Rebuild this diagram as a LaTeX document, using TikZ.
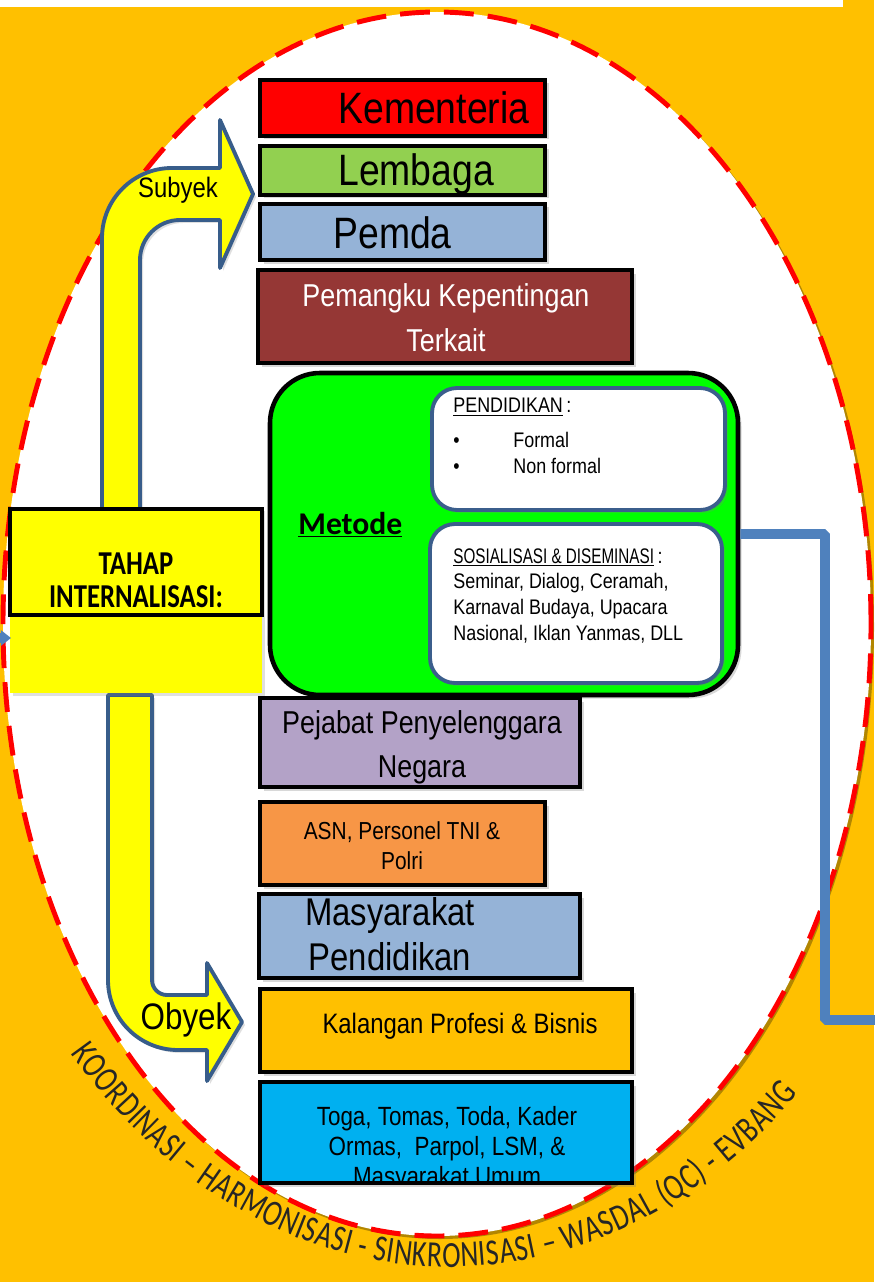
\documentclass[tikz,border=0pt]{standalone}
\usepackage{fontspec}
\setmainfont{Liberation Sans}
\newfontfamily\narrowsans[FakeStretch=0.85]{Liberation Sans}
\newfontfamily\condbold[FakeStretch=0.8]{Carlito}
\newfontfamily\plainbold{Carlito}
\newfontfamily\arcfont[FakeStretch=0.75]{Carlito}
\usetikzlibrary{shadows}
\usetikzlibrary{arrows.meta}
\usetikzlibrary{decorations.text}
\usetikzlibrary{fit}

\definecolor{bggold}{HTML}{FFC000}
\definecolor{kemred}{HTML}{FF0000}
\definecolor{lemgreen}{HTML}{92D050}
\definecolor{pemblue}{HTML}{95B3D7}
\definecolor{pkubrown}{HTML}{953735}
\definecolor{metgreen}{HTML}{00FF00}
\definecolor{innerblue}{HTML}{3B5E8C}
\definecolor{lilac}{HTML}{B3A2C7}
\definecolor{asnorange}{HTML}{F79646}
\definecolor{togacyan}{HTML}{00B0F0}
\definecolor{arrowyellow}{HTML}{FFFF00}
\definecolor{arrowedge}{HTML}{385D8A}
\definecolor{linkblue}{HTML}{4F81BD}
\definecolor{arcgray}{HTML}{262626}

\begin{document}
\begin{tikzpicture}[x=0.2mm, y=0.2mm,
    box/.style={draw=black, line width=2.6pt, inner sep=0pt,
        drop shadow={shadow xshift=0.7mm, shadow yshift=-0.7mm, opacity=0.3}},
    innerbox/.style={draw=innerblue, fill=white, line width=2.2pt, rounded corners=5mm, inner sep=0pt,
        drop shadow={shadow xshift=0.6mm, shadow yshift=-0.6mm, opacity=0.25}},
    boxtxt/.style={font=\narrowsans, inner sep=0pt, align=center},
    bendarrow/.style={fill=arrowyellow, draw=arrowedge, line width=2.2pt, line join=round,
        drop shadow={shadow xshift=0.6mm, shadow yshift=-0.6mm, opacity=0.25}},
    link/.style={draw=linkblue, line width=5.5pt},
    ovalrim/.style={draw=kemred, line width=2.8pt, dash pattern=on 17pt off 8pt}
]
    % latar
    \fill[bggold] (0,0) rectangle (874,-1282);
    \useasboundingbox (0,0) rectangle (874,-1282);
    \fill[white] (0,0) rectangle (843,-7);

    % elips
    \fill[black!60!bggold, opacity=0.5] (440,-627) ellipse [x radius=434, y radius=612];
    \fill[white] (437,-624) ellipse [x radius=434, y radius=612];
    \draw[ovalrim] (437,-624) ellipse [x radius=434, y radius=612];

    % teks melengkung
    \path[decorate, decoration={text along path, text align={fit to path}, text color=arcgray,
        text={|\arcfont\fontsize{21}{21}\selectfont|KOORDINASI – HARMONISASI - SINKRONISASI – WASDAL (QC) - EVBANG}}]
        (450,-622) ++(222:510 and 645) arc [start angle=222, end angle=313, x radius=510, y radius=645];

    % panah kuning
    \draw[bendarrow] (102,-510) -- (102,-238) arc [start angle=180, end angle=90, radius=70]
        -- (220,-168) -- (220,-120) -- (253,-194) -- (220,-268) -- (220,-220) -- (180,-220)
        arc [start angle=90, end angle=180, radius=40] -- (140,-510) -- cycle;
    \draw[bendarrow] (108,-695) -- (108,-980) arc [start angle=180, end angle=270, radius=70]
        -- (207,-1050) -- (207,-1081) -- (242,-1022) -- (207,-963) -- (207,-995) -- (167,-995)
        arc [start angle=270, end angle=180, radius=15] -- (152,-695) -- cycle;
    \node[boxtxt, font=\narrowsans\fontsize{16}{16}\selectfont] (subyek) at (178,-190) {Subyek};
    \node[boxtxt, font=\narrowsans\fontsize{21}{21}\selectfont] (obyek) at (186,-1020) {Obyek};

    % tahap
    \node[fill=arrowyellow, inner sep=0pt, drop shadow={shadow xshift=0.6mm, shadow yshift=-0.6mm, opacity=0.25},
        fit={(10,-508) (262,-693)}] (tahap) {};
    \node[draw=black, line width=2.6pt, inner sep=0pt, fit={(10,-509) (262,-615)}] (tahapframe) {};
    \node[boxtxt, font=\condbold\bfseries\fontsize{19}{18.8}\selectfont] (tahaptxt) at (136,-580)
        {TAHAP\\INTERNALISASI:};

    % subyek
    \node[box, fill=kemred, fit={(260,-80) (545,-136)}] (kem) {};
    \node[boxtxt, anchor=base west, font=\narrowsans\fontsize{25}{25}\selectfont] (kemtxt) at (338,-124) {Kementeria};
    \node[box, fill=lemgreen, fit={(260,-146) (545,-195)}] (lem) {};
    \node[boxtxt, anchor=base west, font=\narrowsans\fontsize{25}{25}\selectfont] (lemtxt) at (338,-186) {Lembaga};
    \node[box, fill=pemblue, fit={(260,-204) (545,-260)}] (pem) {};
    \node[boxtxt, anchor=base west, font=\narrowsans\fontsize{25}{25}\selectfont] (pemtxt) at (333,-248) {Pemda};
    \node[box, fill=pkubrown, fit={(258,-270) (632,-363)}] (pku) {};
    \node[boxtxt, text=white, font=\narrowsans\fontsize{18}{25.5}\selectfont] (pkutxt) at (446,-318)
        {Pemangku Kepentingan\\Terkait};

    % metode
    \node[box, fill=metgreen, rounded corners=10mm, fit={(270,-373) (738,-695)}] (metode) {};
    \node[anchor=base west, inner sep=0pt, font=\plainbold\bfseries\fontsize{18}{18}\selectfont] (mettxt)
        at (298,-534) {\underline{Metode}};
    \node[innerbox, fit={(432,-388) (725,-510)}] (pend) {};
    \node[boxtxt, align=left, anchor=north west, font=\narrowsans\fontsize{12}{14.7}\selectfont] (pendtxt)
        at (453,-398) {\underline{PENDIDIKAN}\,:\\[1.8mm]\makebox[12mm][l]{•}Formal\\\makebox[12mm][l]{•}Non formal};
    \node[innerbox, fit={(430,-524) (722,-683)}] (sos) {};
    \node[boxtxt, align=left, anchor=north west, font=\narrowsans\fontsize{12}{14.7}\selectfont] (sostxt)
        at (453,-548) {\scalebox{0.85}[1]{\underline{SOSIALISASI \& DISEMINASI}}\,:\\Seminar, Dialog, Ceramah,\\Karnaval Budaya, Upacara\\Nasional, Iklan Yanmas, DLL};

    % obyek
    \node[box, fill=lilac, fit={(260,-698) (580,-787)}] (pejabat) {};
    \node[boxtxt, font=\narrowsans\fontsize{18}{25}\selectfont] (pejtxt) at (422,-747)
        {Pejabat Penyelenggara\\Negara};
    \node[box, fill=asnorange, fit={(260,-802) (545,-885)}] (asn) {};
    \node[boxtxt, font=\narrowsans\fontsize{14}{17}\selectfont] (asntxt) at (402,-846)
        {ASN, Personel TNI \&\\Polri};
    \node[box, fill=pemblue, fit={(259,-894) (580,-978)}] (masy) {};
    \node[boxtxt, font=\narrowsans\fontsize{22}{25.5}\selectfont] (masytxt) at (390,-934)
        {Masyarakat\\Pendidikan};
    \node[box, fill=bggold, fit={(260,-989) (632,-1072)}] (kalangan) {};
    \node[boxtxt, font=\narrowsans\fontsize{16}{16}\selectfont] (kaltxt) at (460,-1026)
        {Kalangan Profesi \& Bisnis};
    \node[box, fill=togacyan, fit={(260,-1082) (632,-1183)}] (toga) {};
    \begin{scope}
        \clip ([yshift=1.3pt]toga.south west) rectangle (toga.north east);
        \node[boxtxt, font=\narrowsans\fontsize{15}{17}\selectfont] (togatxt) at (447,-1149)
            {Toga, Tomas, Toda, Kader\\Ormas,\ \ Parpol, LSM, \&\\Masyarakat Umum};
    \end{scope}

    % penghubung
    \coordinate (bendtop) at (825,-534);
    \coordinate (bendlow) at (825,-1020);
    \coordinate (exitR) at (890,-1020);
    \draw[link, rounded corners=1pt] (metode.east) -- (bendtop) -- (bendlow) -- (exitR);
    \coordinate (entryL) at (-30,-638);
    \coordinate (tipL) at (11,-638);
    \draw[link, -{Triangle[length=2mm, width=3mm]}] (entryL) -- (tipL);
\end{tikzpicture}
\end{document}
